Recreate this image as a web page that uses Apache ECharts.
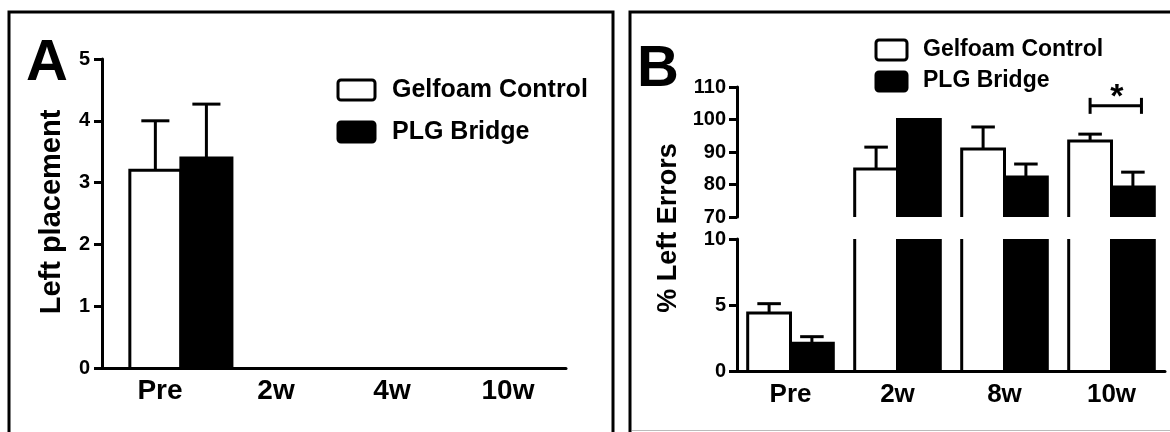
<!DOCTYPE html>
<html><head><meta charset="utf-8">
<script src="https://cdn.jsdelivr.net/npm/echarts@6/dist/echarts.min.js"></script>
<style>html,body{margin:0;padding:0;background:#fff}#c{width:1170px;height:432px}</style>
</head><body><div id="c"></div>
<script>
const FONT = '"Liberation Sans", Arial, Helvetica, sans-serif';
const seriesNames = ['Gelfoam Control', 'PLG Bridge'];
const panelLetters = ['A', 'B'];
const yTitles = ['Left placement', '% Left Errors'];

const catsA = ['Pre', '2w', '4w', '10w'];
const gelfoamA = [3.2, 0, 0, 0];
const gelfoamAErr = [0.8, 0, 0, 0];
const plgA = [3.4, 0, 0, 0];
const plgAErr = [0.87, 0, 0, 0];
const ticksA = [0, 1, 2, 3, 4, 5];

const catsB = ['Pre', '2w', '8w', '10w'];
const gelfoamB = [4.4, 84.8, 90.9, 93.4];
const gelfoamBErr = [0.7, 6.7, 6.8, 2.1];
const plgB = [2.1, 100, 82.3, 79.2];
const plgBErr = [0.5, 0, 4.0, 4.6];
const ticksBUpper = [70, 80, 90, 100, 110];
const ticksBLower = [0, 5, 10];

const sigCat = ['10w'];
const sigLevel = [104.2];
const sigMark = ['*'];

function rows(vals, errs) { return vals.map((v, i) => [i, v, errs[i]]); }

const LN = { stroke: '#000', lineWidth: 3, fill: 'none', lineJoin: 'miter', lineCap: 'butt' };

function makeBarRender(side, fill, shiftFrac, widthFrac) {
  return function (params, api) {
    const cat = api.value(0), val = api.value(1), err = api.value(2);
    const cs = params.coordSys;
    const band = api.size([1, 0])[0];
    const w = band * widthFrac;
    const p = api.coord([cat, val]);
    const cx = p[0] + band * shiftFrac;
    const x0 = side === 0 ? cx - w : cx;
    const x1 = x0 + w;
    const yBase = cs.y + cs.height;
    if (!(val > 0) || p[1] >= yBase - 0.5) return null;
    const clipped = p[1] < cs.y;
    const yTop = clipped ? cs.y : p[1];
    const ch = [{ type: 'rect', shape: { x: x0, y: yTop, width: w, height: yBase - yTop }, style: { fill: fill } }];
    if (clipped) {
      ch.push({ type: 'line', shape: { x1: x0, y1: yTop, x2: x0, y2: yBase }, style: LN });
      ch.push({ type: 'line', shape: { x1: x1, y1: yTop, x2: x1, y2: yBase }, style: LN });
    } else {
      ch.push({ type: 'polyline', shape: { points: [[x0, yBase], [x0, yTop], [x1, yTop], [x1, yBase]] }, style: LN });
      if (err > 0) {
        const yc = api.coord([cat, val + err])[1];
        const bx = (x0 + x1) / 2, cw = w * 0.55;
        ch.push({ type: 'line', shape: { x1: bx, y1: yTop, x2: bx, y2: yc }, style: LN });
        ch.push({ type: 'line', shape: { x1: bx - cw / 2, y1: yc, x2: bx + cw / 2, y2: yc }, style: LN });
      }
    }
    return { type: 'group', children: ch };
  };
}

function sigRender(params, api) {
  const p = api.coord([api.value(0), api.value(1)]);
  const band = api.size([1, 0])[0];
  const xL = p[0] - band * 0.2, xR = p[0] + band * 0.28, y = p[1];
  return { type: 'group', children: [
    { type: 'line', shape: { x1: xL, y1: y, x2: xR, y2: y }, style: LN },
    { type: 'line', shape: { x1: xL, y1: y - 8, x2: xL, y2: y + 8 }, style: LN },
    { type: 'line', shape: { x1: xR, y1: y - 8, x2: xR, y2: y + 8 }, style: LN },
    { type: 'text', x: (xL + xR) / 2 + 1, y: y + 9, style: { text: sigMark[0], fill: '#000', font: 'bold 34px ' + FONT, align: 'center', verticalAlign: 'bottom' } }
  ] };
}

const axisLineStyle = { show: true, lineStyle: { color: '#000', width: 3 } };
const yTick = { show: true, length: 8, lineStyle: { color: '#000', width: 3 } };
function yLabel(fs, m) { return { color: '#000', fontSize: fs, fontWeight: 'bold', fontFamily: FONT, margin: m }; }
function xLabel(fs, m) { return { color: '#000', fontSize: fs, fontWeight: 'bold', fontFamily: FONT, margin: m, interval: 0 }; }
function range(t) { return { min: t[0], max: t[t.length - 1], interval: t[1] - t[0] }; }

const chart = echarts.init(document.getElementById('c'), null, { renderer: 'canvas' });
chart.setOption({
  animation: false,
  backgroundColor: '#fff',
  grid: [
    { left: 102, top: 59, width: 464, height: 309, containLabel: false, outerBoundsMode: 'none' },
    { left: 737, top: 87, width: 428, height: 130, containLabel: false, outerBoundsMode: 'none' },
    { left: 737, top: 239, width: 428, height: 132, containLabel: false, outerBoundsMode: 'none' }
  ],
  xAxis: [
    { gridIndex: 0, type: 'category', data: catsA, axisLine: axisLineStyle, axisTick: { show: false }, axisLabel: xLabel(28, 9), z: 10 },
    { gridIndex: 1, type: 'category', data: catsB, show: false },
    { gridIndex: 2, type: 'category', data: catsB, axisLine: axisLineStyle, axisTick: { show: false }, axisLabel: xLabel(26, 11), z: 10 }
  ],
  yAxis: [
    Object.assign({ gridIndex: 0, type: 'value', axisLine: axisLineStyle, axisTick: yTick, splitLine: { show: false }, axisLabel: yLabel(20, 12), z: 10 }, range(ticksA)),
    Object.assign({ gridIndex: 1, type: 'value', axisLine: axisLineStyle, axisTick: yTick, splitLine: { show: false }, axisLabel: yLabel(20, 11), z: 10 }, range(ticksBUpper)),
    Object.assign({ gridIndex: 2, type: 'value', axisLine: axisLineStyle, axisTick: yTick, splitLine: { show: false }, axisLabel: yLabel(20, 11), z: 10 }, range(ticksBLower))
  ],
  series: [
    { type: 'custom', name: seriesNames[0], xAxisIndex: 0, yAxisIndex: 0, encode: { x: 0, y: 1 }, data: rows(gelfoamA, gelfoamAErr), renderItem: makeBarRender(0, '#fff', 0.18, 0.44) },
    { type: 'custom', name: seriesNames[1], xAxisIndex: 0, yAxisIndex: 0, encode: { x: 0, y: 1 }, data: rows(plgA, plgAErr), renderItem: makeBarRender(1, '#000', 0.18, 0.44) },
    { type: 'custom', name: seriesNames[0], xAxisIndex: 1, yAxisIndex: 1, encode: { x: 0, y: 1 }, data: rows(gelfoamB, gelfoamBErr), renderItem: makeBarRender(0, '#fff', 0, 0.40) },
    { type: 'custom', name: seriesNames[1], xAxisIndex: 1, yAxisIndex: 1, encode: { x: 0, y: 1 }, data: rows(plgB, plgBErr), renderItem: makeBarRender(1, '#000', 0, 0.40) },
    { type: 'custom', name: seriesNames[0], xAxisIndex: 2, yAxisIndex: 2, encode: { x: 0, y: 1 }, data: rows(gelfoamB, gelfoamBErr), renderItem: makeBarRender(0, '#fff', 0, 0.40) },
    { type: 'custom', name: seriesNames[1], xAxisIndex: 2, yAxisIndex: 2, encode: { x: 0, y: 1 }, data: rows(plgB, plgBErr), renderItem: makeBarRender(1, '#000', 0, 0.40) },
    { type: 'custom', name: 'significance', xAxisIndex: 1, yAxisIndex: 1, encode: { x: 0, y: 1 }, data: [[catsB.indexOf(sigCat[0]), sigLevel[0]]], renderItem: sigRender }
  ],
  graphic: [
    { type: 'rect', shape: { x: 9, y: 12, width: 604, height: 440 }, style: { fill: 'none', stroke: '#000', lineWidth: 3 } },
    { type: 'rect', shape: { x: 630, y: 12, width: 600, height: 440 }, style: { fill: 'none', stroke: '#000', lineWidth: 3 } },
    { type: 'line', shape: { x1: 632, y1: 430.5, x2: 1170, y2: 430.5 }, style: { stroke: '#bbb', lineWidth: 1 } },
    { type: 'text', x: 47, y: 64, style: { text: panelLetters[0], font: 'bold 58px ' + FONT, fill: '#000', align: 'center', verticalAlign: 'middle' } },
    { type: 'text', x: 658, y: 70, style: { text: panelLetters[1], font: 'bold 58px ' + FONT, fill: '#000', align: 'center', verticalAlign: 'middle' } },
    { type: 'text', x: 52, y: 212, rotation: Math.PI / 2, style: { text: yTitles[0], font: 'bold 29px ' + FONT, fill: '#000', align: 'center', verticalAlign: 'middle' } },
    { type: 'text', x: 669, y: 228, rotation: Math.PI / 2, style: { text: yTitles[1], font: 'bold 27px ' + FONT, fill: '#000', align: 'center', verticalAlign: 'middle' } },
    { type: 'rect', shape: { x: 338, y: 80, width: 37, height: 20, r: 3 }, style: { fill: '#fff', stroke: '#000', lineWidth: 3 } },
    { type: 'text', x: 392, y: 90, style: { text: seriesNames[0], font: 'bold 25px ' + FONT, fill: '#000', verticalAlign: 'middle' } },
    { type: 'rect', shape: { x: 338, y: 122, width: 37, height: 20, r: 3 }, style: { fill: '#000', stroke: '#000', lineWidth: 3 } },
    { type: 'text', x: 392, y: 132, style: { text: seriesNames[1], font: 'bold 25px ' + FONT, fill: '#000', verticalAlign: 'middle' } },
    { type: 'rect', shape: { x: 876, y: 40, width: 31, height: 20, r: 3 }, style: { fill: '#fff', stroke: '#000', lineWidth: 3 } },
    { type: 'text', x: 923, y: 50, style: { text: seriesNames[0], font: 'bold 23px ' + FONT, fill: '#000', verticalAlign: 'middle' } },
    { type: 'rect', shape: { x: 876, y: 72, width: 31, height: 19, r: 3 }, style: { fill: '#000', stroke: '#000', lineWidth: 3 } },
    { type: 'text', x: 923, y: 81, style: { text: seriesNames[1], font: 'bold 23px ' + FONT, fill: '#000', verticalAlign: 'middle' } }
  ]
});
</script></body></html>
